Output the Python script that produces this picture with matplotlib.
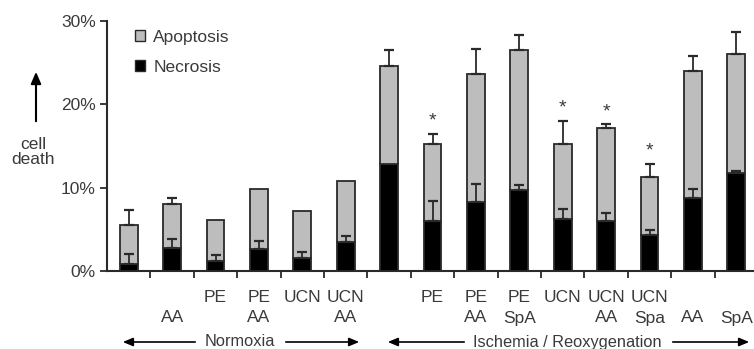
import matplotlib
matplotlib.use("Agg")
import matplotlib.pyplot as plt
from matplotlib.patches import Patch
import matplotlib.transforms as mtransforms

plt.rcParams['font.family'] = ['Liberation Sans', 'DejaVu Sans']

row1 = ['', '', 'PE', 'PE', 'UCN', 'UCN', '', 'PE', 'PE', 'PE', 'UCN', 'UCN', 'UCN', '', '']
row2 = ['', 'AA', '', 'AA', '', 'AA', '', '', 'AA', 'SpA', '', 'AA', 'Spa', 'AA', 'SpA']
total = [5.5, 8.1, 6.1, 9.8, 7.2, 10.8, 24.6, 15.3, 23.6, 26.5, 15.3, 17.2, 11.3, 24.0, 26.0]
total_err_top = [7.3, 8.8, None, None, None, None, 26.5, 16.5, 26.7, 28.3, 18.0, 17.6, 12.9, 25.8, 28.7]
necrosis = [0.8, 2.8, 1.2, 2.7, 1.6, 3.5, 12.9, 6.0, 8.3, 9.7, 6.3, 6.0, 4.3, 8.8, 11.8]
necrosis_err_top = [2.1, 3.9, 1.9, 3.6, 2.3, 4.2, None, 8.4, 10.4, 10.3, 7.4, 7.0, 4.9, 9.9, 12.0]
significant = [7, 10, 11, 12]
groups = ['Normoxia', 'Ischemia / Reoxygenation']

TXT = '#3a3a3a'
GRAY = '#bdbdbd'
EDGE = '#2a2a2a'
FS = 12.5

W, H = 754, 349
fig = plt.figure(figsize=(W / 100, H / 100), dpi=100)
ax = fig.add_axes([107 / W, 1 - 271 / H, 651 / W, 250 / H])

x = list(range(len(total)))
apop = [t - n for t, n in zip(total, necrosis)]
bw = 0.41
ax.bar(x, necrosis, width=bw, color='black', edgecolor=EDGE, linewidth=1.3, zorder=3, label='Necrosis')
ax.bar(x, apop, bottom=necrosis, width=bw, color=GRAY, edgecolor=EDGE, linewidth=1.3, zorder=3, label='Apoptosis')

def err(values, tops):
    xs, ys, es = [], [], []
    for i, (v, t) in enumerate(zip(values, tops)):
        if t is None:
            continue
        xs.append(i); ys.append(v); es.append(t - v)
    ax.errorbar(xs, ys, yerr=[[0] * len(es), es], fmt='none', ecolor=EDGE,
                elinewidth=1.3, capsize=3.5, capthick=1.6, zorder=4)

err(total, total_err_top)
err(necrosis, necrosis_err_top)

for i in significant:
    top = total_err_top[i] if total_err_top[i] is not None else total[i]
    ax.text(i, top + 0.5, '*', ha='center', va='bottom', fontsize=14, color=TXT)

ax.set_xlim(-0.5, len(total) - 0.5)
ax.set_ylim(0, 30)
ax.set_yticks([0, 10, 20, 30])
ax.set_yticklabels(['0%', '10%', '20%', '30%'], fontsize=FS, color=TXT)
ax.set_xticks([i + 0.5 for i in range(len(total) - 1)])
ax.set_xticklabels([])
ax.tick_params(axis='y', length=5, width=1.3, color=EDGE, pad=3)
ax.tick_params(axis='x', length=5, width=1.3, color=EDGE)
for s in ['top', 'right']:
    ax.spines[s].set_visible(False)
for s in ['left', 'bottom']:
    ax.spines[s].set_color(EDGE)
    ax.spines[s].set_linewidth(1.5)

trans = mtransforms.blended_transform_factory(ax.transData, fig.transFigure)
for i in x:
    if row1[i]:
        ax.text(i, 1 - 297 / H, row1[i], transform=trans, ha='center', va='center', fontsize=FS, color=TXT)
    if row2[i]:
        ax.text(i, 1 - 318 / H, row2[i], transform=trans, ha='center', va='center', fontsize=FS, color=TXT)

def group(label, xl, xr, tl, tr, xc):
    y = 1 - 342 / H
    fig.text(xc / W, y, label, ha='center', va='center', fontsize=11.8, color=TXT)
    for a, b in [(tl, xl), (tr, xr)]:
        fig.patches.append(matplotlib.patches.FancyArrowPatch((a / W, y), (b / W, y), transform=fig.transFigure,
                           arrowstyle='-|>,head_length=6,head_width=2.5', color='black', lw=1.2, mutation_scale=1))

group(groups[0], 120, 362, 198, 283, 240)
group(groups[1], 385, 752, 467, 670, 567)

fig.text(33 / W, 1 - 152 / H, 'cell\ndeath', ha='center', va='center', fontsize=FS, color=TXT, linespacing=1.05)
fig.patches.append(matplotlib.patches.FancyArrowPatch((36 / W, 1 - 124 / H), (36 / W, 1 - 69 / H), transform=fig.transFigure,
                   arrowstyle='-|>,head_length=7,head_width=3', color='black', lw=1.5, mutation_scale=1))

handles = [Patch(facecolor=GRAY, edgecolor=EDGE, linewidth=1.0, label='Apoptosis'),
           Patch(facecolor='black', edgecolor=EDGE, linewidth=1.0, label='Necrosis')]
fig.legend(handles=handles, loc='upper left', bbox_to_anchor=(135 / W, 1 - 30 / H), frameon=False,
           fontsize=FS, handlelength=0.6, handleheight=0.6, handletextpad=0.45, labelspacing=0.85,
           borderpad=0, borderaxespad=0, labelcolor=TXT)

fig.savefig('out.png', dpi=100)
